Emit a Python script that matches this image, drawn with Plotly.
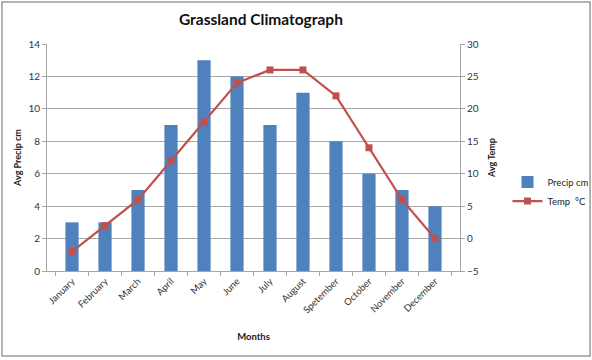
import plotly.graph_objects as go

months = ["January", "February", "March", "April", "May", "June", "July",
          "August", "Spetember", "October", "November", "December"]
precip_cm = [3, 3, 5, 9, 13, 12, 9, 11, 8, 6, 5, 4]
temp_c = [-2, 2, 6, 12, 18, 24, 26, 26, 22, 14, 6, 0]

FONT = "Lato, Open Sans, sans-serif"
GRID = "#a6a6a6"

fig = go.Figure()
fig.add_trace(go.Bar(x=months, y=precip_cm, name="Precip cm",
                     marker=dict(color="#4f81bd", line=dict(width=0)),
                     width=0.4, yaxis="y"))
fig.add_trace(go.Scatter(x=months, y=temp_c, name="Temp  \u00b0C", yaxis="y2",
                         mode="lines+markers",
                         line=dict(color="#c0504d", width=2.2),
                         marker=dict(symbol="square", size=7, color="#c0504d")))

fig.update_layout(
    width=592, height=360,
    margin=dict(l=47, r=132, t=44, b=89, autoexpand=False),
    paper_bgcolor="white", plot_bgcolor="white",
    font=dict(family=FONT, size=10, color="#333333"),
    title=dict(text="<b>Grassland Climatograph</b>", x=0.518, xanchor="center",
               xref="paper", y=0.945, yanchor="middle",
               font=dict(size=15.5, color="#111111", family=FONT)),
    showlegend=True,
    legend=dict(x=1.115, y=0.35, xanchor="left", yanchor="middle",
                bgcolor="rgba(0,0,0,0)", font=dict(size=9.5, color="#222222"),
                tracegroupgap=2, itemwidth=30),
    xaxis=dict(type="category", tickangle=-45, showgrid=False, automargin=False,
               showline=True, linecolor=GRID, linewidth=1,
               ticks="outside", tickson="boundaries", tickcolor=GRID, ticklen=4,
               tickfont=dict(size=9.5),
               title=dict(text="<b>Months</b>", font=dict(size=9.5, color="#222222"), standoff=18)),
    yaxis=dict(range=[0, 14], dtick=2, showgrid=True, gridcolor=GRID, gridwidth=1,
               automargin=False,
               showline=True, linecolor=GRID, ticks="outside", tickcolor=GRID, ticklen=4,
               zeroline=False, tickfont=dict(size=10),
               title=dict(text="<b>Avg Precip cm</b>", font=dict(size=9, color="#222222"), standoff=5)),
    yaxis2=dict(range=[-5, 30], dtick=5, overlaying="y", side="right", showgrid=False,
                automargin=False,
                showline=True, linecolor=GRID, ticks="outside", tickcolor=GRID, ticklen=4,
                zeroline=False, tickfont=dict(size=10),
                title=dict(text="<b>Avg Temp</b>", font=dict(size=9, color="#222222"), standoff=10)),
)

fig.add_shape(type="rect", xref="paper", yref="paper",
              x0=-0.109, x1=1.315, y0=-0.374, y1=1.185,
              line=dict(color="#9a9a9a", width=1.5), fillcolor="rgba(0,0,0,0)", layer="below")

fig.write_html("out.html", config={"displayModeBar": False},
               post_script="document.body.style.margin='0';")
